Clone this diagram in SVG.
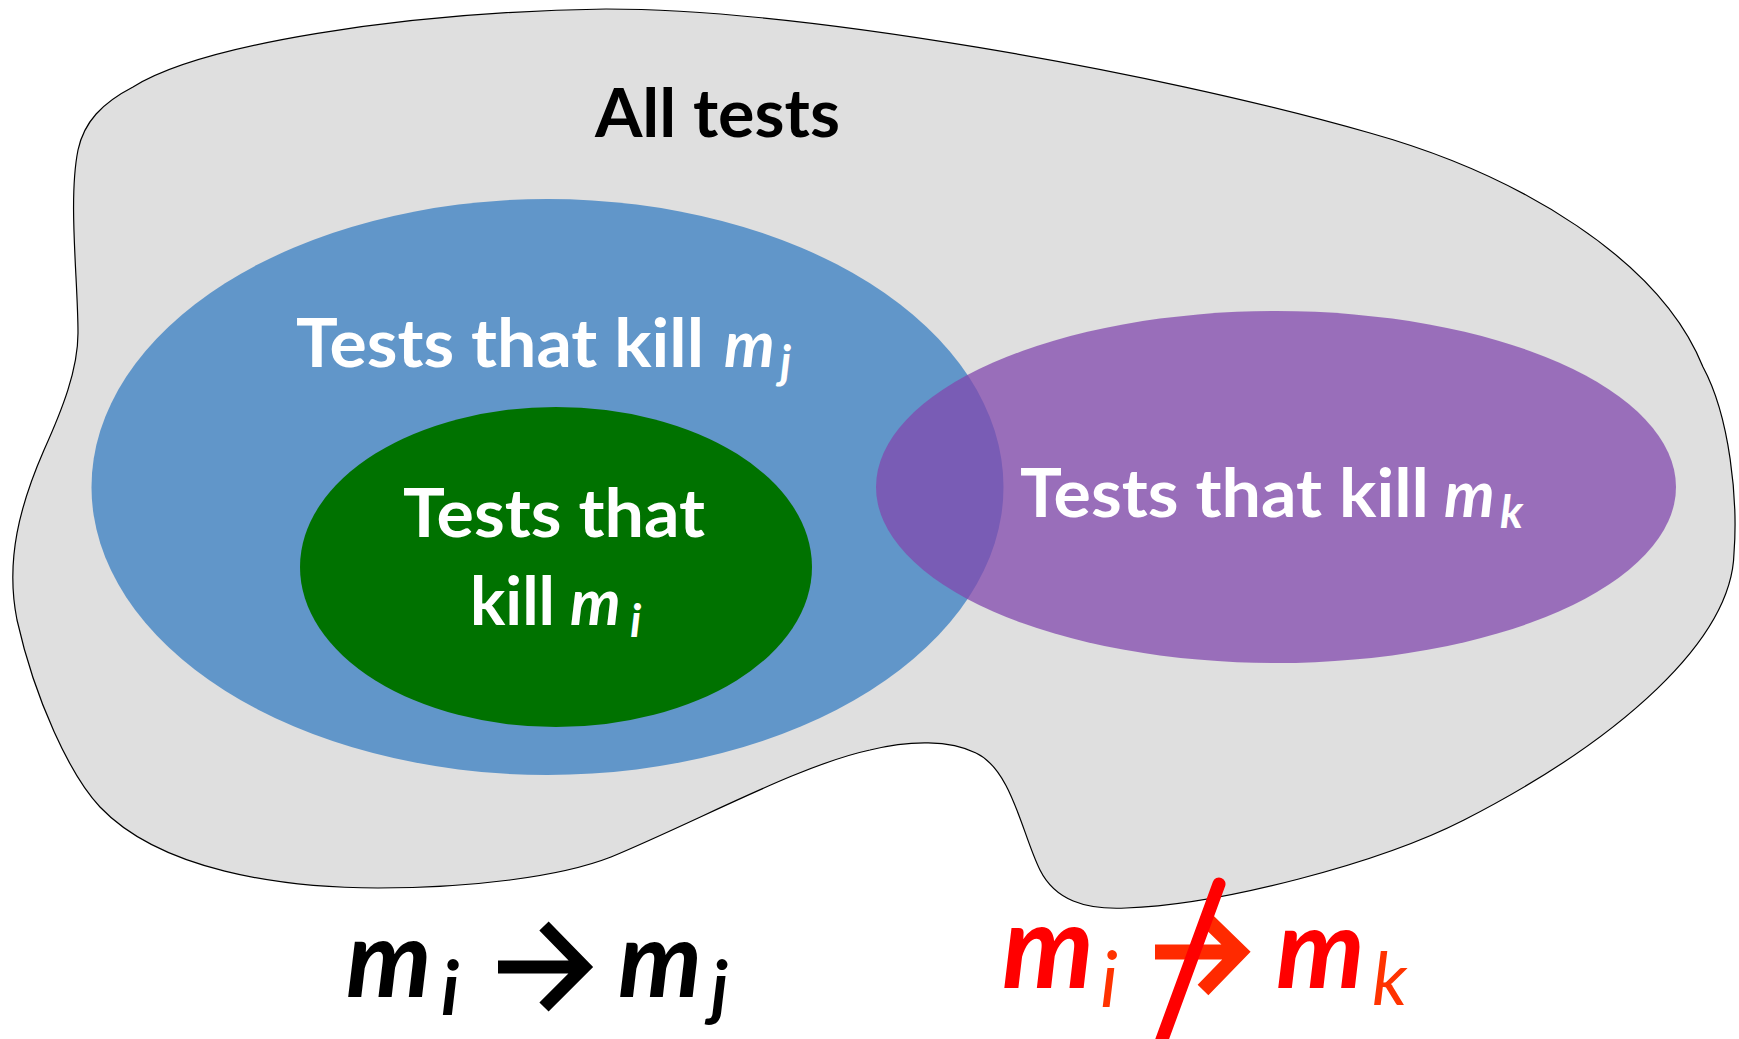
<svg xmlns="http://www.w3.org/2000/svg" width="1739" height="1039" viewBox="0 0 1739 1039">
<style>
text { font-family: Lato, "Open Sans", "Liberation Sans", sans-serif; }
.b { font-weight: 700; }
.lbl { font-weight: 700; fill: #ffffff; font-size: 66px; }
.mi { font-style: italic; font-weight: 700; font-size: 64px; }
.sub { font-style: italic; font-weight: 700; font-size: 46px; }
.fm { font-style: italic; font-weight: 700; }
.fs { font-style: italic; }
.arrow { fill: none; stroke-linejoin: miter; }
</style>
<rect width="1739" height="1039" fill="#ffffff"/>
<g id="all-tests">
<path d="M 133,87 C 200,45 400,12 606,9 C 800,9 1150,70 1370,133 C 1520,175 1660,260 1703,367 C 1730,417 1738,500 1734,553 C 1732,640 1620,740 1464,820 C 1380,863 1220,905 1126,908 C 1085,910 1055,900 1040,870 C 1022,834 1012,770 976,753 C 950,740 910,740 870,750 C 800,765 700,820 611,857 C 560,877 470,888 378,888 C 280,888 160,870 100,807 C 70,775 35,700 17,620 C 5,560 20,505 44,450 C 62,410 78,370 78,333 C 78,280 68,200 78,150 C 84,122 102,103 133,87 Z" fill="#dfdfdf" stroke="#000000" stroke-width="1.2"/>
<text class="b" x="595" y="137" font-size="66" textLength="245" lengthAdjust="spacingAndGlyphs" fill="#000000">All tests</text>
</g>
<g id="kill-mj">
<ellipse cx="547.5" cy="487" rx="456" ry="288" fill="#6196c9"/>
</g>
<g id="kill-mi">
<ellipse cx="556" cy="567" rx="256" ry="160" fill="#007200"/>
</g>
<g id="kill-mk">
<ellipse cx="1276" cy="487" rx="400" ry="176" fill="#8248ae" fill-opacity="0.75"/>
</g>
<g id="labels">
<text class="lbl" x="296" y="367"><tspan textLength="408" lengthAdjust="spacingAndGlyphs">Tests that kill</tspan><tspan class="mi" x="724" y="367">m</tspan><tspan class="sub" x="780" y="378">j</tspan></text>
<text class="lbl" x="403" y="537" textLength="302" lengthAdjust="spacingAndGlyphs">Tests that</text>
<text class="lbl" x="470" y="625"><tspan textLength="85" lengthAdjust="spacingAndGlyphs">kill</tspan><tspan class="mi" x="570" y="625">m</tspan><tspan class="sub" x="630" y="637">i</tspan></text>
<text class="lbl" x="1020" y="517"><tspan textLength="409" lengthAdjust="spacingAndGlyphs">Tests that kill</tspan><tspan class="mi" x="1444" y="517">m</tspan><tspan class="sub" x="1500" y="528">k</tspan></text>
</g>
<g id="formula-subsumes">
<text fill="#000000"><tspan class="fm" x="346" y="997" font-size="108">m</tspan><tspan class="fs" x="441" y="1015" font-size="74" font-weight="700">i</tspan></text>
<path class="arrow" d="M 498,967 H 580 M 544,926 L 584,967 L 544,1007" stroke="#000000" stroke-width="13"/>
<text fill="#000000"><tspan class="fm" x="618" y="997" font-size="106">m</tspan><tspan class="fs" x="711" y="1012" font-size="70" font-weight="700">j</tspan></text>
</g>
<g id="formula-not-subsumes">
<text><tspan class="fm" x="1002" y="988" fill="#ff0000" font-size="116">m</tspan><tspan class="fs" x="1100" y="1007" fill="#ff3300" font-size="78" font-weight="400">i</tspan></text>
<path class="arrow" d="M 1155,952 H 1235 M 1205,918 L 1240,952 L 1203,990" stroke="#ff2a00" stroke-width="15"/>
<line x1="1219" y1="884" x2="1160" y2="1045" stroke="#ff0000" stroke-width="13" stroke-linecap="round"/>
<text><tspan class="fm" x="1276" y="988" fill="#ff0000" font-size="112">m</tspan><tspan class="fs" x="1372" y="1005" fill="#ff3300" font-size="74" font-weight="400">k</tspan></text>
</g>
</svg>
